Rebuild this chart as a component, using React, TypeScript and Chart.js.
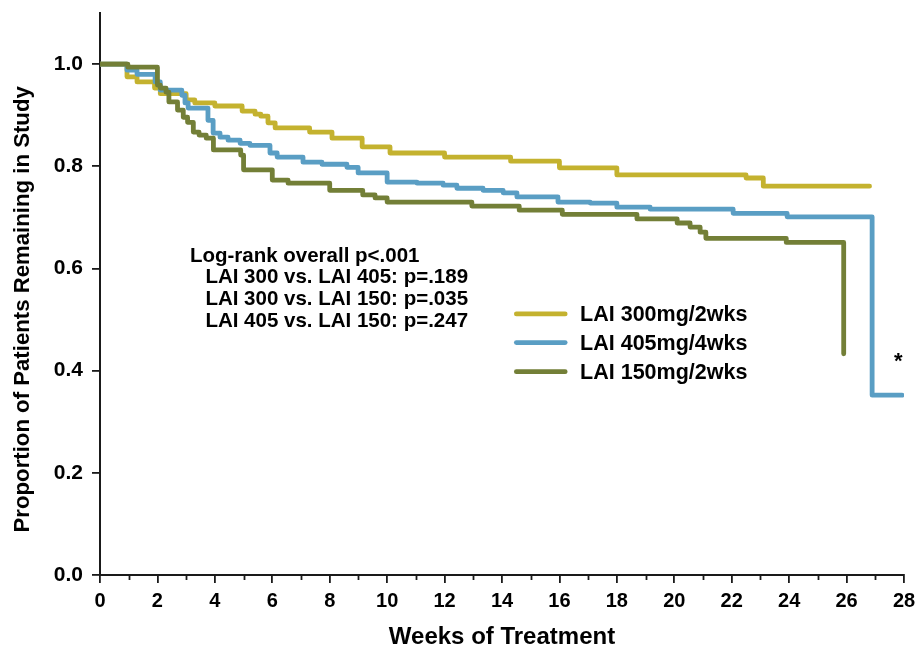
import React, { useEffect, useRef } from "react";
import { Chart, registerables } from "chart.js";

Chart.register(...registerables);

// ---------- Data ----------
const seriesNames = ["LAI 300mg/2wks", "LAI 405mg/4wks", "LAI 150mg/2wks"];

const lai300Weeks = [0, 0.94, 1.29, 1.9, 2.1, 3.0, 3.3, 4.0, 4.95, 5.4, 5.6, 5.85, 6.1, 7.3, 8.08, 9.13, 10.1, 12.0, 14.3, 16.0, 18.0, 22.5, 23.1, 26.8];
const lai300Values = [1.0, 0.975, 0.965, 0.953, 0.942, 0.93, 0.924, 0.918, 0.908, 0.902, 0.898, 0.885, 0.875, 0.867, 0.855, 0.838, 0.826, 0.818, 0.81, 0.797, 0.783, 0.777, 0.761, 0.761];

const lai405Weeks = [0, 0.94, 1.29, 1.92, 2.1, 2.85, 2.96, 3.07, 3.76, 3.94, 4.18, 4.46, 4.88, 5.22, 5.92, 6.17, 7.07, 7.73, 8.6, 8.99, 10.0, 11.04, 11.95, 12.43, 13.34, 14.04, 14.52, 15.95, 17.07, 18.0, 19.16, 22.05, 23.93, 26.89, 27.93];
const lai405Values = [1.0, 0.988, 0.98, 0.965, 0.949, 0.939, 0.924, 0.914, 0.89, 0.865, 0.857, 0.851, 0.845, 0.841, 0.826, 0.818, 0.808, 0.804, 0.798, 0.787, 0.769, 0.767, 0.763, 0.757, 0.753, 0.748, 0.74, 0.73, 0.728, 0.72, 0.716, 0.708, 0.701, 0.352, 0.352];

const lai150Weeks = [0, 0.97, 2.0, 2.1, 2.3, 2.4, 2.7, 2.9, 3.05, 3.25, 3.45, 3.7, 3.95, 4.9, 5.0, 6.0, 6.55, 8.0, 9.15, 9.58, 10.0, 12.95, 14.6, 16.1, 18.7, 20.1, 20.55, 20.9, 21.1, 23.9, 25.9];
const lai150Values = [1.0, 0.994, 0.959, 0.953, 0.945, 0.926, 0.91, 0.896, 0.886, 0.867, 0.861, 0.855, 0.832, 0.822, 0.793, 0.773, 0.767, 0.753, 0.744, 0.738, 0.73, 0.722, 0.714, 0.706, 0.697, 0.689, 0.681, 0.671, 0.659, 0.651, 0.433];

const xMajorTicks = [0, 2, 4, 6, 8, 10, 12, 14, 16, 18, 20, 22, 24, 26, 28];
const xMajorLabels = ["0", "2", "4", "6", "8", "10", "12", "14", "16", "18", "20", "22", "24", "26", "28"];
const xMinorTicks = [1, 3, 5, 7, 9, 11, 13, 15, 17, 19, 21, 23, 25, 27];
const yTickValues = [0, 0.2, 0.4, 0.6, 0.8, 1.0];
const yTickLabels = ["0.0", "0.2", "0.4", "0.6", "0.8", "1.0"];

const xTitle = "Weeks of Treatment";
const yTitle = "Proportion of Patients Remaining in Study";
const statLines = [
  "Log-rank overall p<.001",
  "LAI 300 vs. LAI 405: p=.189",
  "LAI 300 vs. LAI 150: p=.035",
  "LAI 405 vs. LAI 150: p=.247",
];
const footnoteMark = "*";

const colors = ["#C4B22F", "#5A9EC4", "#737F37"];
const AXIS = "#1a1a1a";
const FONT = "'Liberation Sans', Arial, Helvetica, sans-serif";

function pairs(xs: number[], ys: number[]) {
  return xs.map((x, i) => ({ x, y: ys[i] }));
}

export default function App() {
  const ref = useRef<HTMLCanvasElement | null>(null);

  useEffect(() => {
    if (!ref.current) return;

    const overlay = {
      id: "overlay",
      afterDatasetsDraw(chart: any) {
        const { ctx, scales, chartArea } = chart;
        const xs = scales.x;
        const ys = scales.y;
        ctx.save();

        // minor x ticks
        ctx.strokeStyle = AXIS;
        ctx.lineWidth = 1.8;
        xMinorTicks.forEach((v) => {
          const px = Math.round(xs.getPixelForValue(v)) + 0.5;
          ctx.beginPath();
          ctx.moveTo(px, chartArea.bottom);
          ctx.lineTo(px, chartArea.bottom + 5);
          ctx.stroke();
        });

        ctx.fillStyle = "#000";
        ctx.textBaseline = "alphabetic";
        ctx.textAlign = "left";

        // statistics annotation
        ctx.font = `bold 20.5px ${FONT}`;
        const statX = [3.13, 3.67, 3.67, 3.67];
        const statY = [0.6125, 0.5714, 0.5284, 0.4853];
        statLines.forEach((t, i) => {
          ctx.fillText(t, xs.getPixelForValue(statX[i]), ys.getPixelForValue(statY[i]));
        });

        // legend
        const legY = [0.511, 0.455, 0.398];
        ctx.lineCap = "round";
        seriesNames.forEach((name, i) => {
          const py = ys.getPixelForValue(legY[i]);
          ctx.strokeStyle = colors[i];
          ctx.lineWidth = 4.8;
          ctx.beginPath();
          ctx.moveTo(xs.getPixelForValue(14.5), py);
          ctx.lineTo(xs.getPixelForValue(16.2), py);
          ctx.stroke();
          ctx.font = `bold 21.5px ${FONT}`;
          ctx.fillText(name, xs.getPixelForValue(16.72), py + 7.5);
        });

        // asterisk
        ctx.font = `bold 22px ${FONT}`;
        ctx.fillText(footnoteMark, xs.getPixelForValue(27.65), ys.getPixelForValue(0.405));

        // y-axis title
        ctx.save();
        ctx.translate(23, ys.getPixelForValue(0.52));
        ctx.rotate(-Math.PI / 2);
        ctx.textAlign = "center";
        ctx.textBaseline = "middle";
        ctx.font = `bold 22.2px ${FONT}`;
        ctx.fillText(yTitle, 0, 0);
        ctx.restore();

        ctx.restore();
      },
    };

    const mk = (i: number, xs: number[], ys: number[], order: number) => ({
      label: seriesNames[i],
      data: pairs(xs, ys),
      borderColor: colors[i],
      backgroundColor: colors[i],
      borderWidth: 4.8,
      pointRadius: 0,
      stepped: "before" as const,
      borderCapStyle: "round" as const,
      borderJoinStyle: "round" as const,
      fill: false,
      order,
    });

    const chart = new Chart(ref.current, {
      type: "line",
      data: {
        datasets: [
          mk(0, lai300Weeks, lai300Values, 2),
          mk(1, lai405Weeks, lai405Values, 1),
          mk(2, lai150Weeks, lai150Values, 0),
        ],
      },
      options: {
        animation: false,
        responsive: true,
        maintainAspectRatio: false,
        layout: { padding: { top: 13, right: 13, left: 0, bottom: 0 } },
        plugins: {
          legend: { display: false },
          tooltip: { enabled: false },
        },
        scales: {
          x: {
            type: "linear",
            min: 0,
            max: 28,
            afterFit: (s: any) => {
              s.height = 80;
              s.paddingLeft = 0;
              s.paddingRight = 0;
            },
            afterBuildTicks: (s: any) => {
              s.ticks = xMajorTicks.map((v) => ({ value: v }));
            },
            ticks: {
              autoSkip: false,
              maxRotation: 0,
              minRotation: 0,
              padding: 6,
              color: "#000",
              font: { family: FONT, size: 20, weight: "bold" },
              callback: (_v: any, idx: number) => xMajorLabels[idx],
            },
            grid: {
              drawOnChartArea: false,
              drawTicks: true,
              tickLength: 8,
              color: AXIS,
              lineWidth: 1.8,
            },
            border: { display: true, color: AXIS, width: 2 },
            title: {
              display: true,
              text: xTitle,
              color: "#000",
              font: { family: FONT, size: 24, weight: "bold" },
              padding: { top: 0, bottom: 3 },
            },
          },
          y: {
            type: "linear",
            min: 0,
            max: 1.1,
            afterFit: (s: any) => {
              s.width = 100;
              s.paddingTop = 0;
              s.paddingBottom = 0;
            },
            afterBuildTicks: (s: any) => {
              s.ticks = yTickValues.map((v) => ({ value: v }));
            },
            ticks: {
              padding: 9,
              color: "#000",
              font: { family: FONT, size: 21, weight: "bold" },
              callback: (_v: any, idx: number) => yTickLabels[idx],
            },
            grid: {
              drawOnChartArea: false,
              drawTicks: true,
              tickLength: 8,
              color: AXIS,
              lineWidth: 1.8,
            },
            border: { display: true, color: AXIS, width: 2 },
          },
        },
      },
      plugins: [overlay],
    });

    return () => chart.destroy();
  }, []);

  return (
    <div style={{ position: "absolute", left: 0, top: 0, width: 917, height: 655 }}>
      <canvas ref={ref} />
    </div>
  );
}
